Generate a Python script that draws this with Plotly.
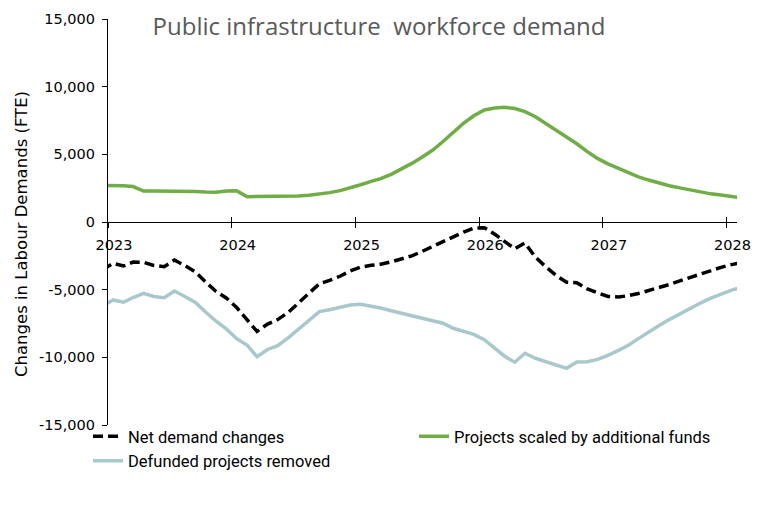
import plotly.graph_objects as go

# Monthly points (mid-month), Dec 2022 .. Feb 2028
months = [f"{2022 + (11 + i) // 12}-{(11 + i) % 12 + 1:02d}-16" for i in range(63)]

net_demand = [-3530, -3060, -3250, -2960, -2980, -3210, -3300, -2810, -3220, -3690,
              -4430, -5130, -5610, -6320, -7240, -8080, -7540, -7210, -6680, -6000,
              -5260, -4560, -4310, -4010, -3620, -3330, -3200, -3120, -2950, -2750,
              -2500, -2180, -1820, -1420, -1080, -740, -450, -420, -910, -1430,
              -1980, -1550, -2600, -3300, -3950, -4450, -4480, -4950, -5250, -5500,
              -5540, -5450, -5280, -5070, -4850, -4620, -4350, -4080, -3820, -3570,
              -3350, -3150, -2980]

projects_scaled = [2700, 2700, 2680, 2620, 2290, 2290, 2290, 2290, 2280, 2260,
                   2220, 2200, 2290, 2300, 1870, 1870, 1880, 1930, 1880, 1920,
                   1980, 2060, 2170, 2320, 2520, 2750, 3000, 3200, 3520, 3900,
                   4330, 4780, 5300, 5950, 6650, 7300, 7850, 8280, 8420, 8470,
                   8380, 8150, 7780, 7300, 6800, 6300, 5780, 5200, 4700, 4300,
                   3950, 3620, 3330, 3100, 2880, 2680, 2520, 2360, 2190, 2080,
                   1990, 1900, 1780]

defunded_removed = [-6230, -5760, -5930, -5580, -5270, -5500, -5590, -5100, -5500, -5950,
                    -6650, -7330, -7900, -8620, -9110, -9950, -9420, -9140, -8560, -7920,
                    -7240, -6620, -6480, -6330, -6140, -6080, -6200, -6350, -6560, -6750,
                    -6950, -7100, -7270, -7480, -7850, -8110, -8300, -8700, -9330, -9900,
                    -10360, -9700, -10070, -10290, -10520, -10810, -10350, -10320, -10150, -9850,
                    -9480, -9130, -8620, -8120, -7650, -7210, -6800, -6360, -5990, -5630,
                    -5300, -5030, -4820]

y_ticks = [-15000, -10000, -5000, 0, 5000, 10000, 15000]
y_tick_labels = ["-15,000", "-10,000", "-5,000", "0", "5,000", "10,000", "15,000"]

x_range = ["2023-01-01", "2028-02-01"]

W, H = 758, 508
ML, MR, MT, MB = 108, 21, 19, 83
PW = W - ML - MR
PH = H - MT - MB

fig = go.Figure()
fig.add_trace(go.Scatter(x=months, y=net_demand, name="Net demand changes", mode="lines",
                         line=dict(color="black", width=3.5, dash="10px,5px")))
fig.add_trace(go.Scatter(x=months, y=projects_scaled, name="Projects scaled by additional funds",
                         mode="lines", line=dict(color="#70AD47", width=3.5)))
fig.add_trace(go.Scatter(x=months, y=defunded_removed, name="Defunded projects removed",
                         mode="lines", line=dict(color="#A9C8CC", width=3.5)))
# helper trace so the overlay axis (upward half of the cross ticks) is drawn
fig.add_trace(go.Scatter(x=[months[1]], y=[None], xaxis="x2", mode="lines",
                         showlegend=False, hoverinfo="skip"))

tick_font = dict(family="DejaVu Sans", size=14.5, color="black")

fig.update_layout(
    width=W, height=H,
    margin=dict(l=ML, r=MR, t=MT, b=MB, autoexpand=False),
    paper_bgcolor="white", plot_bgcolor="white",
    title=dict(text="Public infrastructure\u00a0\u00a0workforce demand",
               font=dict(family="Open Sans", size=24, color="#595959"),
               x=0.5, xref="container", xanchor="center",
               y=1 - 27 / H, yref="container", yanchor="middle"),
    xaxis=dict(type="date", range=x_range, tick0="2023-01-01", dtick="M12", tickformat="%Y",
               anchor="free", position=0.5, showline=True, linecolor="black", linewidth=1.3,
               ticks="outside", ticklen=5, tickwidth=1.3, tickcolor="black",
               showgrid=False, zeroline=False, tickfont=tick_font,
               ticklabelshift=6, ticklabelstandoff=4),
    xaxis2=dict(type="date", range=x_range, tick0="2023-01-01", dtick="M12",
                overlaying="x", anchor="free", position=0.5, showline=False,
                ticks="inside", ticklen=5, tickwidth=1.3, tickcolor="black",
                showticklabels=False, showgrid=False, zeroline=False),
    yaxis=dict(range=[-15000, 15000], tickvals=y_ticks, ticktext=y_tick_labels,
               showline=True, linecolor="black", linewidth=1.3,
               ticks="outside", ticklen=5, tickwidth=1.3, tickcolor="black",
               showgrid=False, zeroline=False, tickfont=tick_font, ticklabelstandoff=4),
    legend=dict(orientation="h", x=(88 - ML) / PW, xanchor="left", y=-0.058, yanchor="middle",
                entrywidth=281, entrywidthmode="pixels", traceorder="normal",
                font=dict(family="Roboto", size=16.5, color="black"),
                bgcolor="rgba(0,0,0,0)"),
    annotations=[dict(text="Changes in Labour Demands (FTE)", xref="paper", yref="paper",
                      x=(22 - ML) / PW, y=(H - MB - 234) / PH, textangle=-90,
                      showarrow=False, xanchor="center", yanchor="middle",
                      font=dict(family="DejaVu Sans", size=16.5, color="black"))],
    showlegend=True,
)

fig.write_html("out.html")
